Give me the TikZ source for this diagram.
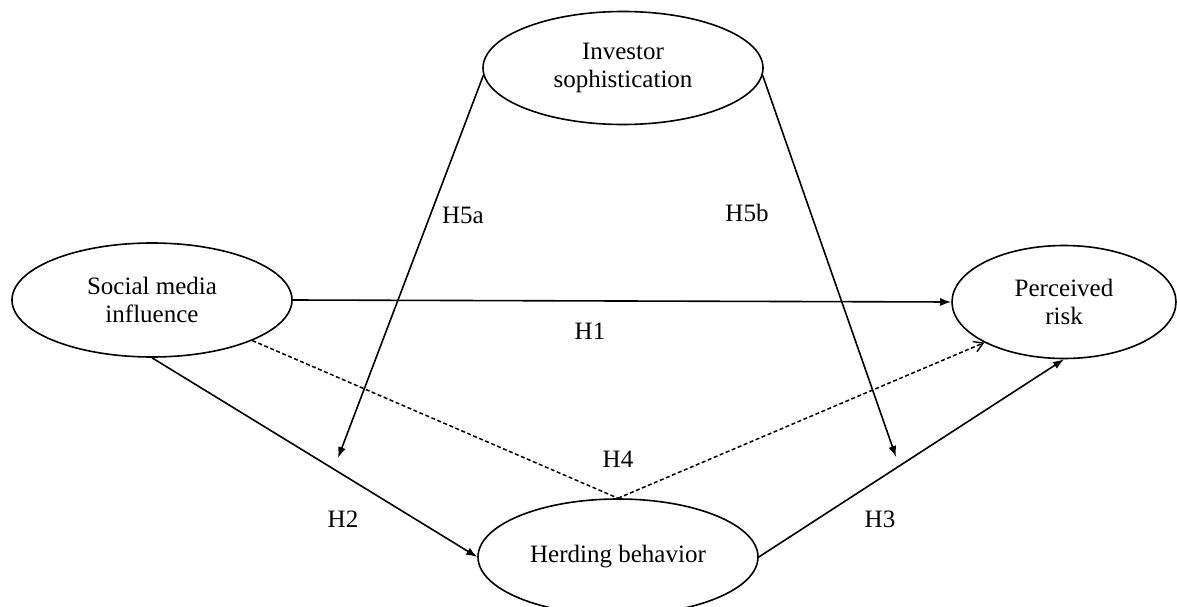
\documentclass[tikz,border=0pt]{standalone}
\usepackage{fontspec}
\setmainfont{Liberation Serif}
\usetikzlibrary{arrows.meta,shapes.geometric}
\begin{document}
\begin{tikzpicture}[x=1pt,y=-1pt,
  construct/.style={draw,ellipse,line width=1.6pt,inner sep=0pt,align=center,
    font=\fontsize{25}{28}\selectfont},
  lbl/.style={font=\fontsize{25}{28}\selectfont,inner sep=0pt},
  link/.style={line width=1.6pt,-{Latex[length=11pt,width=8pt]}},
  dlink/.style={line width=1.5pt,dashed,dash pattern=on 4pt off 2.5pt}
]
\useasboundingbox (0,0) rectangle (1177,607);
\node[construct,minimum width=280pt,minimum height=113pt] (inv) at (623,68) {Investor\\sophistication};
\node[construct,minimum width=280pt,minimum height=114pt] (soc) at (152,300) {Social media\\influence};
\node[construct,minimum width=224pt,minimum height=113pt] (per) at (1064,302) {Perceived\\risk};
\node[construct,minimum width=280pt,minimum height=116pt] (herd) at (618,557) {Herding behavior};

\coordinate (h5aend) at (338,458);
\coordinate (h5bend) at (896,457);

\draw[link] (soc.east) -- (per.west);
\draw[link] (soc.south) -- (herd.west);
\draw[link] (herd.east) -- (per.south);
\draw[dlink] (soc.-22) -- (herd.north);
\draw[dlink,-{Straight Barb[length=9pt,width=11pt,line width=1.4pt]}] (herd.north) -- (per.207);
\draw[link] (inv.183) -- (h5aend);
\draw[link] (inv.-3) -- (h5bend);

\node[lbl] (lh5a) at (463,215) {H5a};
\node[lbl] (lh5b) at (747,213) {H5b};
\node[lbl] (lh1) at (590,331) {H1};
\node[lbl] (lh2) at (343,519) {H2};
\node[lbl] (lh3) at (880,519) {H3};
\node[lbl] (lh4) at (618,459) {H4};
\end{tikzpicture}
\end{document}
